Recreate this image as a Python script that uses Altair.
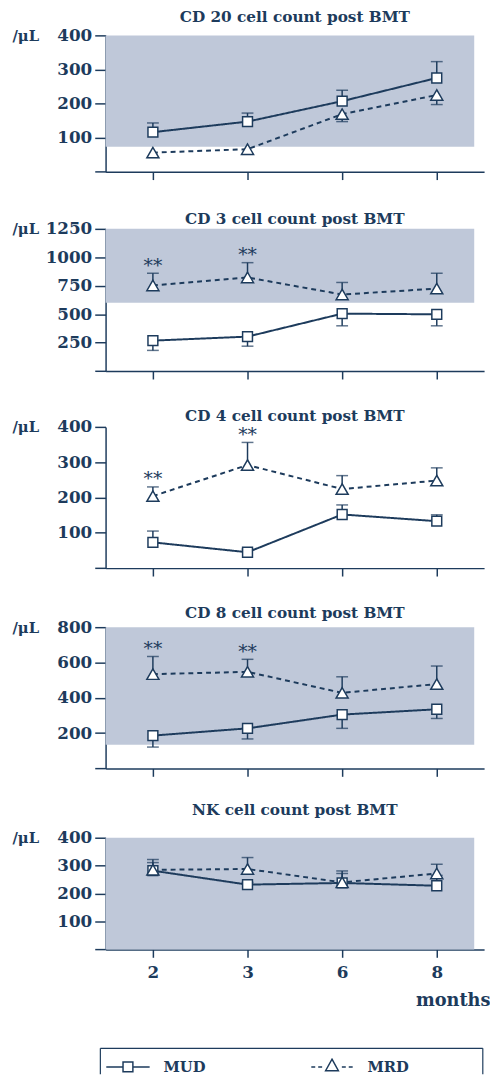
import altair as alt
import pandas as pd

NAVY = "#1d3b5c"
BAND = "#bfc8d9"
FONT = "DejaVu Serif"

months = ["2", "3", "6", "8"]
groups = ["MUD", "MRD"]

cd20_mud = [116, 147, 207, 275]
cd20_mud_bar = [143, 172, 239, 323]
cd20_mrd = [56, 66, 169, 225]
cd20_mrd_bar = [42, 51, 147, 197]
cd20_band = [73, 400]
cd20_ticks = [0, 100, 200, 300, 400]

cd3_mud = [268, 303, 505, 499]
cd3_mud_bar = [182, 219, 398, 398]
cd3_mrd = [753, 823, 673, 725]
cd3_mrd_bar = [860, 953, 779, 860]
cd3_band = [600, 1250]
cd3_ticks = [0, 250, 500, 750, 1000, 1250]

cd4_mud = [73, 45, 152, 133]
cd4_mud_bar = [105, 54, 179, 151]
cd4_mrd = [204, 292, 224, 248]
cd4_mrd_bar = [230, 356, 262, 284]
cd4_ticks = [0, 100, 200, 300, 400]

cd8_mud = [186, 227, 305, 335]
cd8_mud_bar = [121, 167, 227, 283]
cd8_mrd = [534, 547, 428, 478]
cd8_mrd_bar = [634, 618, 519, 580]
cd8_band = [134, 800]
cd8_ticks = [0, 200, 400, 600, 800]

nk_mud = [282, 232, 238, 228]
nk_mud_bar = [311, 240, 272, 265]
nk_mrd = [285, 288, 240, 272]
nk_mrd_bar = [322, 329, 281, 305]
nk_band = [0, 400]
nk_ticks = [0, 100, 200, 300, 400]

significant = ["2", "3"]

W = 384

# legend glyphs (custom symbol paths: line + marker)
PATH_MUD = "M-3.667,0L-0.833,0M0.833,0L3.667,0M-0.833,-0.833L0.833,-0.833L0.833,0.833L-0.833,0.833Z"
PATH_MRD = ("M-3.5,0L-2.833,0M-2.333,0L-1.667,0M1.667,0L2.333,0M2.833,0L3.5,0"
            "M0,-1.3L1.08,0.65L-1.08,0.65Z")
legend_paths = [PATH_MUD, PATH_MRD]


def make_panel(title, mud, mud_bar, mrd, mrd_bar, band, ticks, stars, height,
               title_offset, last=False):
    df = pd.DataFrame({
        "month": months + months,
        "group": ["MUD"] * 4 + ["MRD"] * 4,
        "value": mud + mrd,
        "bar": mud_bar + mrd_bar,
    })
    xscale = alt.Scale(type="point", domain=months, padding=0.5)
    yscale = alt.Scale(domain=[ticks[0], ticks[-1]], nice=False, zero=True)
    common_x = dict(tickSize=8, tickWidth=1.5, tickColor=NAVY, domainColor=NAVY,
                    domainWidth=1.5, grid=False)
    if last:
        xaxis = alt.Axis(labels=True, labelFont=FONT, labelFontSize=17,
                         labelFontWeight="bold", labelColor=NAVY, labelPadding=8,
                         labelAngle=0, title="months", titleFont=FONT,
                         titleFontSize=18, titleFontWeight="bold", titleColor=NAVY,
                         titleX=390, titleY=57, titleAlign="right",
                         titleBaseline="alphabetic", **common_x)
    else:
        xaxis = alt.Axis(labels=False, title=None, **common_x)
    yaxis = alt.Axis(values=ticks, format="d",
                     labelExpr="datum.value == 0 ? '' : datum.label",
                     labelFont=FONT, labelFontSize=17, labelFontWeight="bold",
                     labelColor=NAVY, labelPadding=3, tickSize=11, tickWidth=1.5,
                     tickColor=NAVY, domainColor=NAVY, domainWidth=1.5, grid=False,
                     title="/μL", titleAngle=0, titleX=-95, titleY=0,
                     titleAlign="left", titleBaseline="middle", titleFont=FONT,
                     titleFontSize=15, titleFontWeight="bold", titleColor=NAVY)
    x = alt.X("month:O", scale=xscale, axis=xaxis)

    layers = []
    if band is not None:
        bdf = pd.DataFrame({"lo": [band[0]], "hi": [band[1]]})
        layers.append(
            alt.Chart(bdf).mark_rect(color=BAND).encode(
                x=alt.value(0), x2=alt.value(374),
                y=alt.Y("lo:Q", scale=yscale, axis=yaxis), y2="hi:Q"))
    base = alt.Chart(df)
    layers.append(base.mark_rule(color=NAVY, strokeWidth=1.5).encode(
        x=x, y=alt.Y("value:Q", scale=yscale, axis=yaxis), y2="bar:Q"))
    layers.append(base.mark_tick(color=NAVY, thickness=1.5, size=12).encode(
        x=x, y=alt.Y("bar:Q", scale=yscale, axis=yaxis)))
    layers.append(base.mark_line(color=NAVY, strokeWidth=2).encode(
        x=x, y=alt.Y("value:Q", scale=yscale, axis=yaxis),
        strokeDash=alt.StrokeDash("group:N", scale=alt.Scale(domain=groups, range=[[1, 0], [5, 4]]), legend=None)))
    layers.append(base.transform_filter("datum.group == 'MUD'").mark_point(
        shape="square", size=100, filled=True, fill="white", stroke=NAVY,
        strokeWidth=1.5, opacity=1).encode(
        x=x, y=alt.Y("value:Q", scale=yscale, axis=yaxis)))
    layers.append(base.transform_filter("datum.group == 'MRD'").mark_point(
        shape="triangle-up", size=150, filled=True, fill="white", stroke=NAVY,
        strokeWidth=1.5, opacity=1).encode(
        x=x, y=alt.Y("value:Q", scale=yscale, axis=yaxis)))
    if stars:
        sdf = pd.DataFrame({"month": stars,
                            "bar": [mrd_bar[months.index(m)] for m in stars]})
        layers.append(alt.Chart(sdf).mark_text(
            text="**", font=FONT, fontSize=19, color=NAVY, baseline="alphabetic",
            dy=-1.5).encode(x=x, y=alt.Y("bar:Q", scale=yscale, axis=yaxis)))
    if last:
        one = pd.DataFrame({"k": [0]})
        box = dict(color=NAVY, strokeWidth=1.2)
        # legend frame (cut by the page bottom, as in the original)
        layers.append(alt.Chart(one).mark_rule(**box).encode(
            x=alt.value(-5.3), x2=alt.value(382.7), y=alt.value(213.7)))
        layers.append(alt.Chart(one).mark_rule(**box).encode(
            x=alt.value(-5.3), y=alt.value(213.7), y2=alt.value(240)))
        layers.append(alt.Chart(one).mark_rule(**box).encode(
            x=alt.value(382.7), y=alt.value(213.7), y2=alt.value(240)))
        # legend entries
        sym_x = [22.7, 229.7]
        lab_x = [58.7, 265.7]
        ly = 232.5
        for g, path, sx, lx in zip(groups, legend_paths, sym_x, lab_x):
            layers.append(alt.Chart(one).mark_point(
                shape=path, size=144, filled=True, fill="white", stroke=NAVY,
                strokeWidth=1.5, opacity=1).encode(
                x=alt.value(sx), y=alt.value(ly)))
            layers.append(alt.Chart(one).mark_text(
                text=g, font=FONT, fontSize=15, fontWeight="bold", color=NAVY,
                align="left", baseline="middle").encode(
                x=alt.value(lx), y=alt.value(ly)))

    return alt.layer(*layers).properties(
        width=W, height=height,
        title=alt.TitleParams(text=title, font=FONT, fontSize=15.5, fontWeight="bold",
                              color=NAVY, anchor="middle", frame="group",
                              offset=title_offset, baseline="alphabetic", dx=0))


p1 = make_panel("CD 20 cell count post BMT", cd20_mud, cd20_mud_bar, cd20_mrd,
                cd20_mrd_bar, cd20_band, cd20_ticks, [], 138.3, -11.4)
p2 = make_panel("CD 3 cell count post BMT", cd3_mud, cd3_mud_bar, cd3_mrd,
                cd3_mrd_bar, cd3_band, cd3_ticks, significant, 144.3, -19.3)
p3 = make_panel("CD 4 cell count post BMT", cd4_mud, cd4_mud_bar, cd4_mrd,
                cd4_mrd_bar, None, cd4_ticks, significant, 143.3, -18.4)
p4 = make_panel("CD 8 cell count post BMT", cd8_mud, cd8_mud_bar, cd8_mrd,
                cd8_mrd_bar, cd8_band, cd8_ticks, significant, 143.3, -15.1)
p5 = make_panel("NK cell count post BMT", nk_mud, nk_mud_bar, nk_mrd,
                nk_mrd_bar, nk_band, nk_ticks, [], 113.3, -1.7, last=True)

g12 = alt.vconcat(p1, p2, spacing=30.3)
g123 = alt.vconcat(g12, p3, spacing=28.2)
g1234 = alt.vconcat(g123, p4, spacing=28.4)
chart = alt.vconcat(g1234, p5, spacing=26).properties(
    padding={"left": 4, "top": -6, "right": 0, "bottom": -4}
).configure_view(stroke=None)

chart.save("out.html", embed_options={"renderer": "svg", "actions": False})
